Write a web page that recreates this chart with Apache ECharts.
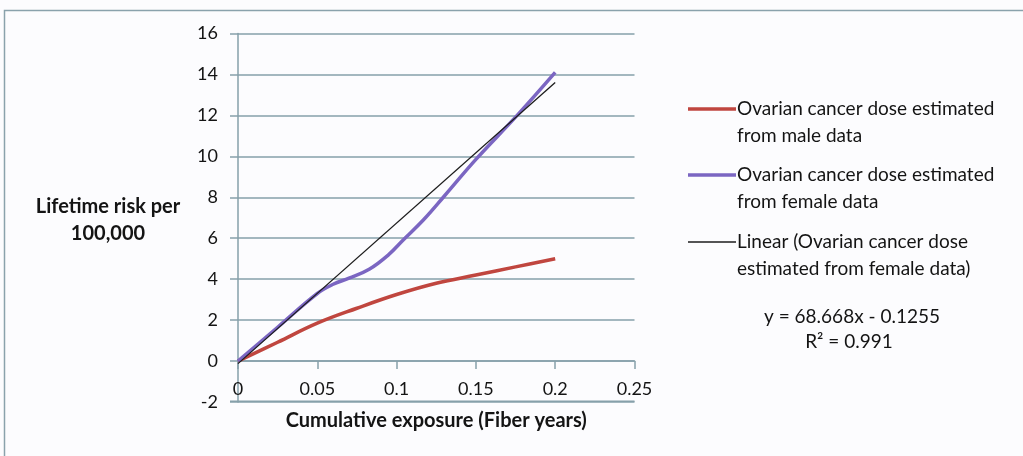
<!DOCTYPE html>
<html>
<head>
<meta charset="utf-8">
<script src="https://cdn.jsdelivr.net/npm/echarts@6/dist/echarts.min.js"></script>
<style>
html,body{margin:0;padding:0;background:#fcfcfe;}
#c{width:1023px;height:456px;}
</style>
</head>
<body>
<div id="c"></div>
<script>
// Data
const maleX = [0, 0.025, 0.05, 0.075, 0.1, 0.125, 0.15, 0.175, 0.2];
const maleY = [0, 0.92, 1.85, 2.58, 3.25, 3.8, 4.2, 4.6, 5.0];
const femaleX = [0, 0.025, 0.05, 0.06, 0.07, 0.083, 0.095, 0.104, 0.117, 0.13, 0.15, 0.176, 0.2];
const femaleY = [0, 1.65, 3.3, 3.75, 4.05, 4.5, 5.2, 5.9, 6.9, 8.05, 9.85, 12.0, 14.1];
const trendX = [0, 0.2];
const trendY = [-0.1255, 13.608];
const xTicks = ['0', '0.05', '0.1', '0.15', '0.2', '0.25'];
const yTicks = ['-2', '0', '2', '4', '6', '8', '10', '12', '14', '16'];
const seriesNames = [
  'Ovarian cancer dose estimated\nfrom male data',
  'Ovarian cancer dose estimated\nfrom female data',
  'Linear (Ovarian cancer dose\nestimated from female data)'
];
const equationText = 'y = 68.668x - 0.1255';
const r2Text = 'R² = 0.991';

const pair = (xs, ys) => xs.map((x, i) => [x, ys[i]]);
const FONT = 'Lato, "Open Sans", sans-serif';
const GRID = '#86a0aa';
const TXT = '#141414';
const colors = ['#c0463f', '#7b66c2', '#1c1c1c'];

const chartW = 1023, chartH = 456;
const gridLeft = 238, gridRight = 388.5, gridTop = 33.5, gridBottom = 54;
const plotH = chartH - gridTop - gridBottom;
const yMin = -2, yMax = 16, xMin = 0, xMax = 0.25;
const zeroOffset = plotH * (0 - yMin) / (yMax - yMin);

const chart = echarts.init(document.getElementById('c'));
const legendItems = [];
const legendTops = [109, 175, 242];
seriesNames.forEach((n, i) => {
  legendItems.push({
    type: 'line', shape: {x1: 688, y1: legendTops[i], x2: 736, y2: legendTops[i]},
    style: {stroke: colors[i], lineWidth: i === 2 ? 1.5 : 3.5}
  });
  legendItems.push({
    type: 'text', x: 737, y: legendTops[i] - 13,
    style: {text: n, font: '19px ' + FONT, fill: TXT, lineHeight: 26.5, textVerticalAlign: 'top'}
  });
});

const bottomY = chartH - gridBottom - 0.75;

chart.setOption({
  backgroundColor: '#fcfcfe',
  animation: false,
  grid: {left: gridLeft, right: gridRight, top: gridTop, bottom: gridBottom, containLabel: false, outerBoundsMode: 'none'},
  xAxis: {
    type: 'value', min: xMin, max: xMax, interval: 0.05, offset: -zeroOffset,
    name: 'Cumulative exposure (Fiber years)', nameLocation: 'middle', nameGap: 49,
    nameTextStyle: {fontFamily: FONT, fontWeight: 'bold', fontSize: 20, color: TXT},
    axisLine: {onZero: false, lineStyle: {color: GRID, width: 1.5}},
    axisTick: {show: true, length: 8, lineStyle: {color: GRID, width: 1.5}},
    axisLabel: {margin: 19, fontFamily: FONT, fontSize: 18, color: TXT,
      formatter: (v) => xTicks[Math.round(v / 0.05)]},
    splitLine: {show: false}
  },
  yAxis: {
    type: 'value', min: yMin, max: yMax, interval: 2,
    axisLine: {show: true, lineStyle: {color: GRID, width: 1.5}},
    axisTick: {show: true, length: 8, lineStyle: {color: GRID, width: 1.5}},
    axisLabel: {margin: 20, fontFamily: FONT, fontSize: 18, color: TXT,
      formatter: (v) => yTicks[Math.round((v - yMin) / 2)]},
    splitLine: {show: true, showMinLine: true, showMaxLine: true, lineStyle: {color: GRID, width: 1.5}}
  },
  series: [
    {name: seriesNames[0], type: 'line', data: pair(maleX, maleY), smooth: 0.4, symbol: 'none',
     lineStyle: {color: colors[0], width: 3.5}, itemStyle: {color: colors[0]}, z: 2},
    {name: seriesNames[1], type: 'line', data: pair(femaleX, femaleY), smooth: 0.4, symbol: 'none',
     lineStyle: {color: colors[1], width: 3.5}, itemStyle: {color: colors[1]}, z: 3},
    {name: seriesNames[2], type: 'line', data: pair(trendX, trendY), symbol: 'none',
     lineStyle: {color: colors[2], width: 1.3}, itemStyle: {color: colors[2]}, z: 4}
  ],
  graphic: [
    {type: 'rect', shape: {x: 4.5, y: 10.5, width: 1040, height: 470},
     style: {fill: 'none', stroke: '#8aa2ac', lineWidth: 1.5}, silent: true},
    {type: 'line', shape: {x1: gridLeft - 8, y1: bottomY, x2: chartW - gridRight, y2: bottomY},
     style: {stroke: GRID, lineWidth: 1.5}, silent: true},
    {type: 'text', x: 108, y: 220,
     style: {text: 'Lifetime risk per\n100,000', font: 'bold 20px ' + FONT, fill: TXT,
       textAlign: 'center', textVerticalAlign: 'middle', lineHeight: 27}},
    ...legendItems,
    {type: 'text', x: 852, y: 317,
     style: {text: equationText, font: '19px ' + FONT, fill: TXT, textAlign: 'center', textVerticalAlign: 'middle'}},
    {type: 'text', x: 849, y: 342,
     style: {text: r2Text, font: '19px ' + FONT, fill: TXT, textAlign: 'center', textVerticalAlign: 'middle'}}
  ]
});
</script>
</body>
</html>
